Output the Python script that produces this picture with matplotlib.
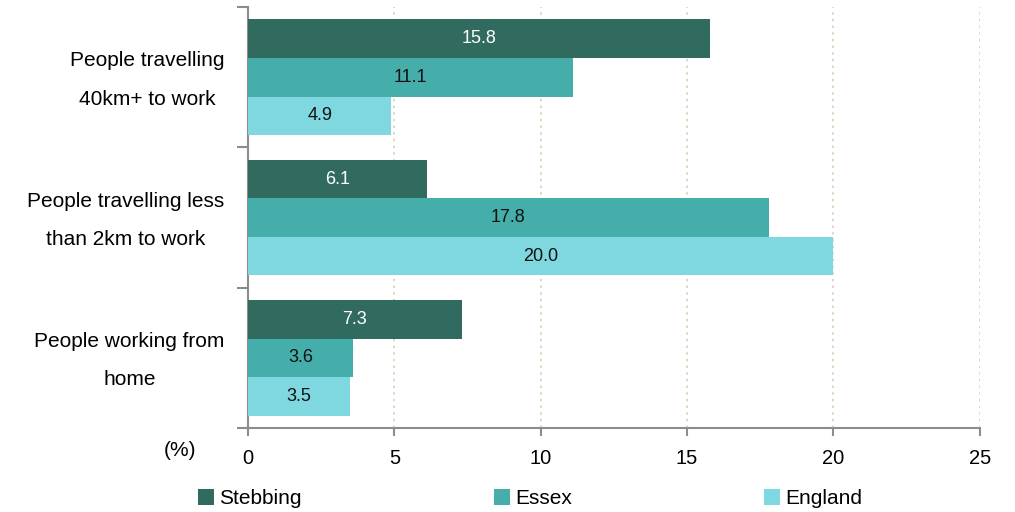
import matplotlib
matplotlib.use("Agg")
import matplotlib.pyplot as plt
import numpy as np
from matplotlib.patches import Patch

plt.rcParams["font.family"] = ["Liberation Sans", "DejaVu Sans"]

# ── data ──────────────────────────────────────────────────────────────────────
categories = ["People travelling\n40km+ to work",
              "People travelling less\nthan 2km to work",
              "People working from\nhome"]
series = ["Stebbing", "Essex", "England"]
stebbing = [15.8, 6.1, 7.3]
essex = [11.1, 17.8, 3.6]
england = [4.9, 20.0, 3.5]

COLORS = ["#316B60", "#46AEAA", "#7FD7DF"]
LABEL_COLORS = ["white", "#111111", "#111111"]
AXIS_GRAY = "#8C8C8C"

fig = plt.figure(figsize=(10.15, 5.12), dpi=100)
ax = fig.add_axes([0.2443, 0.164, 0.721, 0.822])

y = np.arange(len(categories))
bh = 0.275
offsets = [-bh, 0, bh]
for vals, off, col, lcol, name in zip([stebbing, essex, england], offsets,
                                      COLORS, LABEL_COLORS, series):
    bars = ax.barh(y + off, vals, height=bh, color=col, label=name, zorder=3)
    for b, v in zip(bars, vals):
        ax.text(v / 2, b.get_y() + b.get_height() / 2, f"{v:.1f}",
                ha="center", va="center", fontsize=13, color=lcol, zorder=4)

ax.set_xlim(0, 25)
ax.set_ylim(2.5, -0.5)
ax.set_xticks([0, 5, 10, 15, 20, 25])
ax.tick_params(axis="x", labelsize=14.5, length=6, color=AXIS_GRAY,
               width=1.5, pad=9)
ax.set_yticks(y)
ax.set_yticklabels([])
ax.tick_params(axis="y", which="major", length=0)
ax.set_yticks([-0.5, 0.5, 1.5, 2.5], minor=True)
ax.tick_params(axis="y", which="minor", length=8, color=AXIS_GRAY, width=1.5)

# category labels: right-aligned block, lines centred within it
for yi, lab in zip(y, categories):
    ax.text(-0.032, yi + 0.02, lab, transform=ax.get_yaxis_transform(),
            ha="right", va="center", multialignment="center",
            fontsize=15, linespacing=2.3)

ax.grid(axis="x", linestyle=(0, (1.5, 2.5)), color="#D9D2B8", lw=1.2, zorder=0)
for s in ("top", "right"):
    ax.spines[s].set_visible(False)
for s in ("left", "bottom"):
    ax.spines[s].set_color(AXIS_GRAY)
    ax.spines[s].set_linewidth(1.5)

fig.text(0.161, 0.12, "(%)", fontsize=15, ha="left", va="center")

# legend entries placed one by one along the bottom
for name, col, x0 in zip(series, COLORS, [0.195, 0.487, 0.753]):
    leg = fig.legend([Patch(facecolor=col)], [name], loc="center left",
                     bbox_to_anchor=(x0, 0.026), frameon=False, fontsize=15,
                     handlelength=0.75, handleheight=0.75, handletextpad=0.25,
                     borderaxespad=0, borderpad=0)

fig.savefig("out.png", dpi=100)
